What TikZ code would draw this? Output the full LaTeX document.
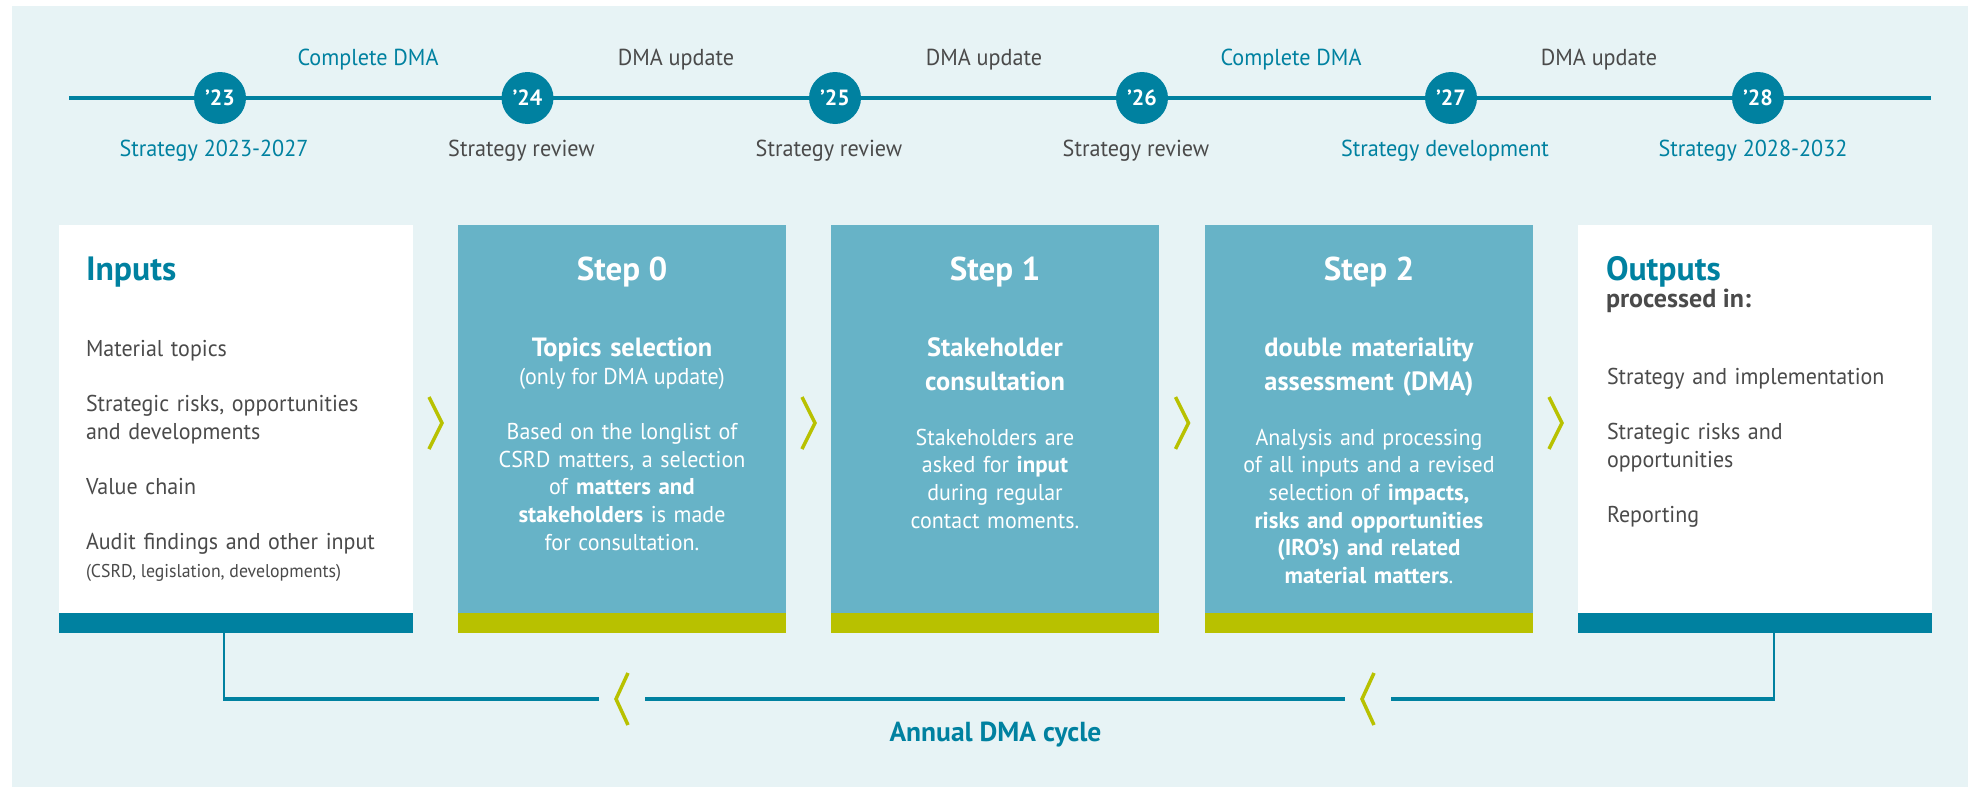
\documentclass[tikz,border=0pt]{standalone}
\usepackage{fontspec}
\setmainfont{PT Sans}[UprightFeatures={FakeStretch=0.96}]
\usetikzlibrary{calc}

\definecolor{bgpanel}{HTML}{E7F3F5}
\definecolor{dmateal}{HTML}{0081A0}
\definecolor{steplight}{HTML}{67B3C7}
\definecolor{limebar}{HTML}{B8C100}
\definecolor{inkgrey}{HTML}{4A4A4A}

\newcommand{\fsz}[1]{\fontsize{#1}{1.2\dimexpr#1pt\relax}\selectfont}

\begin{document}
\begin{tikzpicture}[x=1pt,y=-1pt,
  every node/.style={inner sep=0pt, outer sep=0pt},
  yeardot/.style={circle, fill=dmateal, minimum size=52pt, text=white,
    font=\bfseries\fsz{22}},
  tlteal/.style={anchor=base, text=dmateal, font=\fsz{23.1}},
  tlgrey/.style={anchor=base, text=inkgrey, font=\fsz{23.1}},
  whitecard/.style={rectangle, fill=white, anchor=north west,
    minimum width=354pt, minimum height=408pt},
  stepcard/.style={rectangle, fill=steplight, anchor=north west,
    minimum width=328pt, minimum height=408pt},
  cardhead/.style={anchor=base west, text=dmateal, font=\bfseries\fsz{33.7}},
  stephead/.style={anchor=base, text=white, font=\bfseries\fsz{33}},
  stepsub/.style={anchor=base, text=white, text width=320pt, align=center,
    font=\bfseries\fontsize{26.4}{34}\selectfont},
  stepbody/.style={anchor=base, text=white, text width=320pt, align=center,
    font=\fontsize{22.9}{27.7}\selectfont},
  listbody/.style={anchor=base west, text=inkgrey, text width=320pt, align=left,
    font=\fontsize{22.9}{27.7}\selectfont},
  chevron/.style={draw=limebar, line width=3.5pt, line join=miter},
  cycleline/.style={draw=dmateal, line width=3.5pt},
  cyclestem/.style={draw=dmateal, line width=2pt}
]
\useasboundingbox (0,0) rectangle (1968,787);
\fill[bgpanel] (12,6) rectangle (1968,787);

% ---------- timeline ----------
\coordinate (tlstart) at (69,98);
\coordinate (tlend) at (1931,98);
\draw[dmateal, line width=4pt] (tlstart) -- (tlend);

\node[yeardot] (y23) at (220,98) {’23};
\node[yeardot] (y24) at (527.5,98) {’24};
\node[yeardot] (y25) at (835,98) {’25};
\node[yeardot] (y26) at (1142,98) {’26};
\node[yeardot] (y27) at (1451,98) {’27};
\node[yeardot] (y28) at (1758,98) {’28};

\node[tlteal] (dma1) at (368,65) {Complete DMA};
\node[tlgrey] (dma2) at (676,65) {DMA update};
\node[tlgrey] (dma3) at (984,65) {DMA update};
\node[tlteal] (dma4) at (1291,65) {Complete DMA};
\node[tlgrey] (dma5) at (1599,65) {DMA update};

\node[tlteal] (st23) at (214,156.7) {Strategy 2023-2027};
\node[tlgrey] (st24) at (521.5,156.7) {Strategy review};
\node[tlgrey] (st25) at (829,156.7) {Strategy review};
\node[tlgrey] (st26) at (1136,156.7) {Strategy review};
\node[tlteal] (st27) at (1445,156.7) {Strategy development};
\node[tlteal] (st28) at (1753,156.7) {Strategy 2028-2032};

% ---------- cards ----------
\node[whitecard] (inputs) at (59,225) {};
\node[stepcard] (step0) at (458,225) {};
\node[stepcard] (step1) at (831,225) {};
\node[stepcard] (step2) at (1205,225) {};
\node[whitecard] (outputs) at (1578,225) {};

\fill[dmateal] (inputs.south west) rectangle ($(inputs.south east)+(0,-20)$);
\fill[limebar] (step0.south west) rectangle ($(step0.south east)+(0,-20)$);
\fill[limebar] (step1.south west) rectangle ($(step1.south east)+(0,-20)$);
\fill[limebar] (step2.south west) rectangle ($(step2.south east)+(0,-20)$);
\fill[dmateal] (outputs.south west) rectangle ($(outputs.south east)+(0,-20)$);

% Inputs
\node[cardhead] (inhead) at (86,280) {Inputs};
\node[listbody] (inlist) at (86,356) {Material topics\\[27.7pt]
  Strategic risks, opportunities\\ and developments\\[27.7pt]
  Value chain\\[27.7pt]
  Audit findings and other input};
\node[anchor=base west, text=inkgrey, font=\fsz{18.5}] (innote) at (86,577.7)
  {(CSRD, legislation, developments)};

% Step 0
\node[stephead] (s0head) at (622,280) {Step 0};
\node[stepsub] (s0sub) at (622,356) {Topics selection};
\node[anchor=base, text=white, font=\fsz{22.9}] (s0note) at (622,384) {(only for DMA update)};
\node[stepbody] (s0body) at (622,439.3) {Based on the longlist of\\
  CSRD matters, a selection\\ of \textbf{matters and}\\
  \textbf{stakeholders} is made\\ for consultation.};

% Step 1
\node[stephead] (s1head) at (995,280) {Step 1};
\node[stepsub] (s1sub) at (995,356) {Stakeholder\\ consultation};
\node[stepbody] (s1body) at (995,445) {Stakeholders are\\
  asked for \textbf{input}\\ during regular\\ contact moments.};

% Step 2
\node[stephead] (s2head) at (1369,280) {Step 2};
\node[stepsub] (s2sub) at (1369,356) {double materiality\\ assessment (DMA)};
\node[stepbody] (s2body) at (1369,445) {Analysis and processing\\
  of all inputs and a revised\\ selection of \textbf{impacts,}\\
  \textbf{risks and opportunities}\\ \textbf{(IRO’s) and related}\\
  \textbf{material matters}.};

% Outputs
\node[cardhead] (outhead) at (1606,280) {Outputs};
\node[anchor=base west, text=inkgrey, font=\bfseries\fsz{26}] (outsub) at (1606,307.3) {processed in:};
\node[listbody] (outlist) at (1607,384) {Strategy and implementation\\[27.6pt]
  Strategic risks and\\ opportunities\\[27.6pt] Reporting};

% ---------- chevrons between cards ----------
\foreach \cx/\nm in {435.5/chA, 808.5/chB, 1182/chC, 1555.5/chD}{
  \coordinate (\nm-t) at (\cx-6.5,397);
  \coordinate (\nm-m) at (\cx+6.5,423);
  \coordinate (\nm-b) at (\cx-6.5,449);
  \draw[chevron] (\nm-t) -- (\nm-m) -- (\nm-b);
}

% ---------- annual cycle ----------
\coordinate (cyA) at (224,699);
\coordinate (gap1l) at (599,699);
\coordinate (gap1r) at (645,699);
\coordinate (gap2l) at (1345,699);
\coordinate (gap2r) at (1391,699);
\coordinate (cyB) at (1774,699);
\draw[cyclestem] (inputs.south -| cyA) -- (cyA);
\draw[cyclestem] (outputs.south -| cyB) -- (cyB);
\draw[cycleline] ($(cyA)+(-1,0)$) -- (gap1l);
\draw[cycleline] (gap1r) -- (gap2l);
\draw[cycleline] (gap2r) -- ($(cyB)+(1,0)$);

\foreach \cx/\nm in {622/bkA, 1368/bkB}{
  \coordinate (\nm-t) at (\cx+6,673);
  \coordinate (\nm-m) at (\cx-6,699);
  \coordinate (\nm-b) at (\cx+6,725);
  \draw[chevron] (\nm-t) -- (\nm-m) -- (\nm-b);
}

\node[anchor=base, text=dmateal, font=\bfseries\fsz{27.5}] (cycle) at (995.5,741.7) {Annual DMA cycle};
\end{tikzpicture}
\end{document}
